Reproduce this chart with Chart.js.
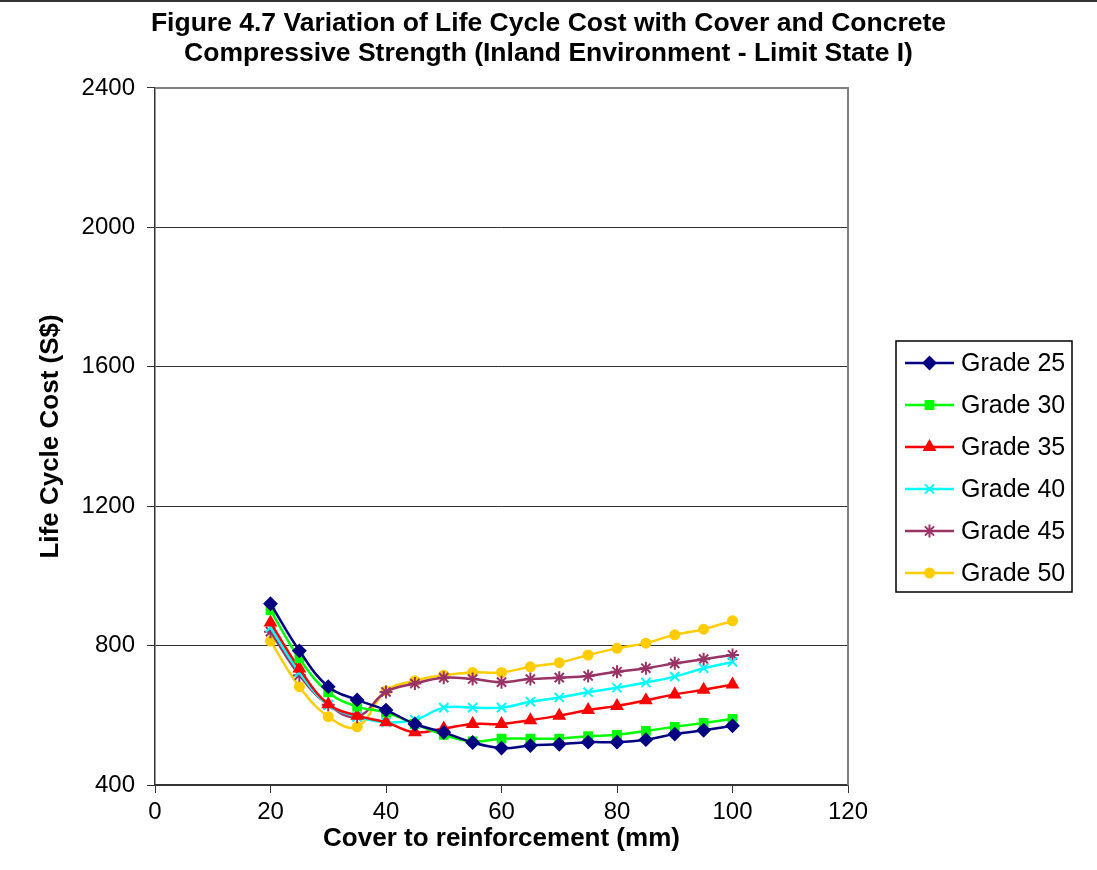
<!DOCTYPE html>
<html>
<head>
<meta charset="utf-8">
<script src="https://cdn.jsdelivr.net/npm/chart.js@4/dist/chart.umd.min.js"></script>
<style>
  html, body { margin: 0; padding: 0; background: #fff; }
  canvas { display: block; }
</style>
</head>
<body>
<canvas id="lccChart" width="1097" height="870"></canvas>
<script>
// cover depth in mm
const cover = [20, 25, 30, 35, 40, 45, 50, 55, 60, 65, 70, 75, 80, 85, 90, 95, 100]

// life cycle cost (S$) per concrete grade
const grade25 = [920, 785, 682, 644, 615, 575, 551, 522, 506, 513, 517, 523, 523, 530, 546, 557, 570]
const grade30 = [901, 763, 666, 625, 608, 575, 544, 525, 533, 533, 533, 540, 544, 555, 567, 578, 590]
const grade35 = [866, 734, 632, 599, 580, 551, 562, 575, 575, 586, 599, 615, 627, 643, 660, 673, 688]
const grade40 = [852, 723, 630, 596, 580, 587, 622, 622, 622, 639, 651, 666, 679, 694, 711, 735, 753]
const grade45 = [840, 715, 630, 596, 667, 691, 708, 704, 695, 704, 708, 713, 725, 735, 749, 761, 773]
const grade50 = [813, 682, 596, 567, 670, 699, 715, 723, 723, 739, 751, 773, 792, 807, 831, 847, 871]

const names = ['Grade 25', 'Grade 30', 'Grade 35', 'Grade 40', 'Grade 45', 'Grade 50']
const colors = ['#000080', '#00ff00', '#ff0000', '#00ffff', '#993366', '#ffcc00']
const markers = ['rectRot', 'rect', 'triangle', 'crossRot', 'star', 'circle']
const markerSize = [6, 5.5, 6, 6.5, 6.5, 4.5]

const xTicks = [0, 20, 40, 60, 80, 100, 120]
const yTicks = [400, 800, 1200, 1600, 2000, 2400]

const FONT = "'Liberation Sans', Arial, sans-serif"
Chart.defaults.font.family = FONT
Chart.defaults.color = '#000'

const series = [grade25, grade30, grade35, grade40, grade45, grade50]
const datasets = series.map((vals, i) => ({
    label: names[i],
    data: vals.map((v, j) => ({ x: cover[j], y: v })),
    borderColor: colors[i],
    backgroundColor: colors[i],
    borderWidth: 2.5,
    tension: 0.4,
    pointStyle: markers[i],
    pointRadius: markerSize[i],
    pointBorderWidth: 2,
    pointBorderColor: colors[i],
    pointBackgroundColor: colors[i],
}))

// title spans the whole canvas, not just the space left of the legend
const wideTitle = {
    id: 'wideTitle',
    afterLayout(chart) {
        const t = chart.titleBlock
        if (t) {
            t.left = 0
            t.right = chart.width
            t.width = chart.width
        }
    }
}

// plot area outline plus the rule along the top of the picture
const frame = {
    id: 'frame',
    beforeDatasetsDraw(chart) {
        const { ctx, chartArea: a } = chart
        ctx.save()
        ctx.strokeStyle = '#808080'
        ctx.lineWidth = 2
        ctx.beginPath()
        ctx.moveTo(a.left, a.top)
        ctx.lineTo(a.right, a.top)
        ctx.lineTo(a.right, a.bottom)
        ctx.stroke()
        ctx.strokeStyle = '#333'
        ctx.lineWidth = 2
        ctx.beginPath()
        ctx.moveTo(0, 1)
        ctx.lineTo(chart.width, 1)
        ctx.stroke()
        ctx.restore()
    }
}

// boxed legend to the right, line through marker like the series
const boxLegend = {
    id: 'boxLegend',
    afterDraw(chart) {
        const ctx = chart.ctx
        const left = 896, top = 341, w = 176, h = 251
        ctx.save()
        ctx.strokeStyle = '#000'
        ctx.lineWidth = 1.5
        ctx.strokeRect(left, top, w, h)
        ctx.font = '25px ' + FONT
        ctx.textBaseline = 'middle'
        chart.data.datasets.forEach((ds, i) => {
            const y = 363 + i * 42
            ctx.strokeStyle = ds.borderColor
            ctx.lineWidth = 2.5
            ctx.beginPath()
            ctx.moveTo(905, y)
            ctx.lineTo(954, y)
            ctx.stroke()
            ctx.fillStyle = ds.borderColor
            ctx.lineWidth = 2
            Chart.helpers.drawPoint(ctx, {
                pointStyle: ds.pointStyle,
                radius: ds.pointRadius,
                rotation: 0,
                borderWidth: 2
            }, 929.5, y)
            ctx.fillStyle = '#000'
            ctx.fillText(ds.label, 961, y + 1)
        })
        ctx.restore()
    }
}

new Chart(document.querySelector('#lccChart'), {
    type: 'line',
    data: { datasets: datasets },
    plugins: [wideTitle, frame, boxLegend],
    options: {
        responsive: false,
        animation: false,
        layout: { padding: { left: 0, right: 249, top: 0, bottom: 0 } },
        plugins: {
            legend: { display: false },
            tooltip: { enabled: false },
            title: {
                display: true,
                text: ['Figure 4.7 Variation of Life Cycle Cost with Cover and Concrete',
                       'Compressive Strength (Inland Environment - Limit State I)'],
                font: { size: 26.5, weight: 'bold', lineHeight: 1.13 },
                color: '#000',
                padding: { top: 9, bottom: 19 }
            }
        },
        scales: {
            x: {
                type: 'linear',
                min: 0,
                max: 120,
                afterBuildTicks: s => { s.ticks = xTicks.map(v => ({ value: v })) },
                afterFit: s => { s.height = 85 },
                ticks: { font: { size: 24 }, padding: 5, color: '#000', callback: v => String(v) },
                grid: { drawOnChartArea: false, tickLength: 8, color: '#333' },
                border: { color: '#333', width: 1.5 },
                title: {
                    display: true,
                    text: 'Cover to reinforcement (mm)',
                    font: { size: 26, weight: 'bold' },
                    color: '#000',
                    padding: { top: 0, bottom: 16 }
                }
            },
            y: {
                min: 400,
                max: 2400,
                afterBuildTicks: s => { s.ticks = yTicks.map(v => ({ value: v })) },
                afterFit: s => { s.width = 155 },
                ticks: { font: { size: 24 }, padding: 12, color: '#000', callback: v => String(v) },
                grid: { color: '#333', lineWidth: 1, tickLength: 8 },
                border: { color: '#333', width: 1.5 },
                title: {
                    display: true,
                    text: 'Life Cycle Cost (S$)',
                    font: { size: 26, weight: 'bold' },
                    color: '#000',
                    padding: { top: 35, bottom: 0 }
                }
            }
        }
    }
})
</script>
</body>
</html>
